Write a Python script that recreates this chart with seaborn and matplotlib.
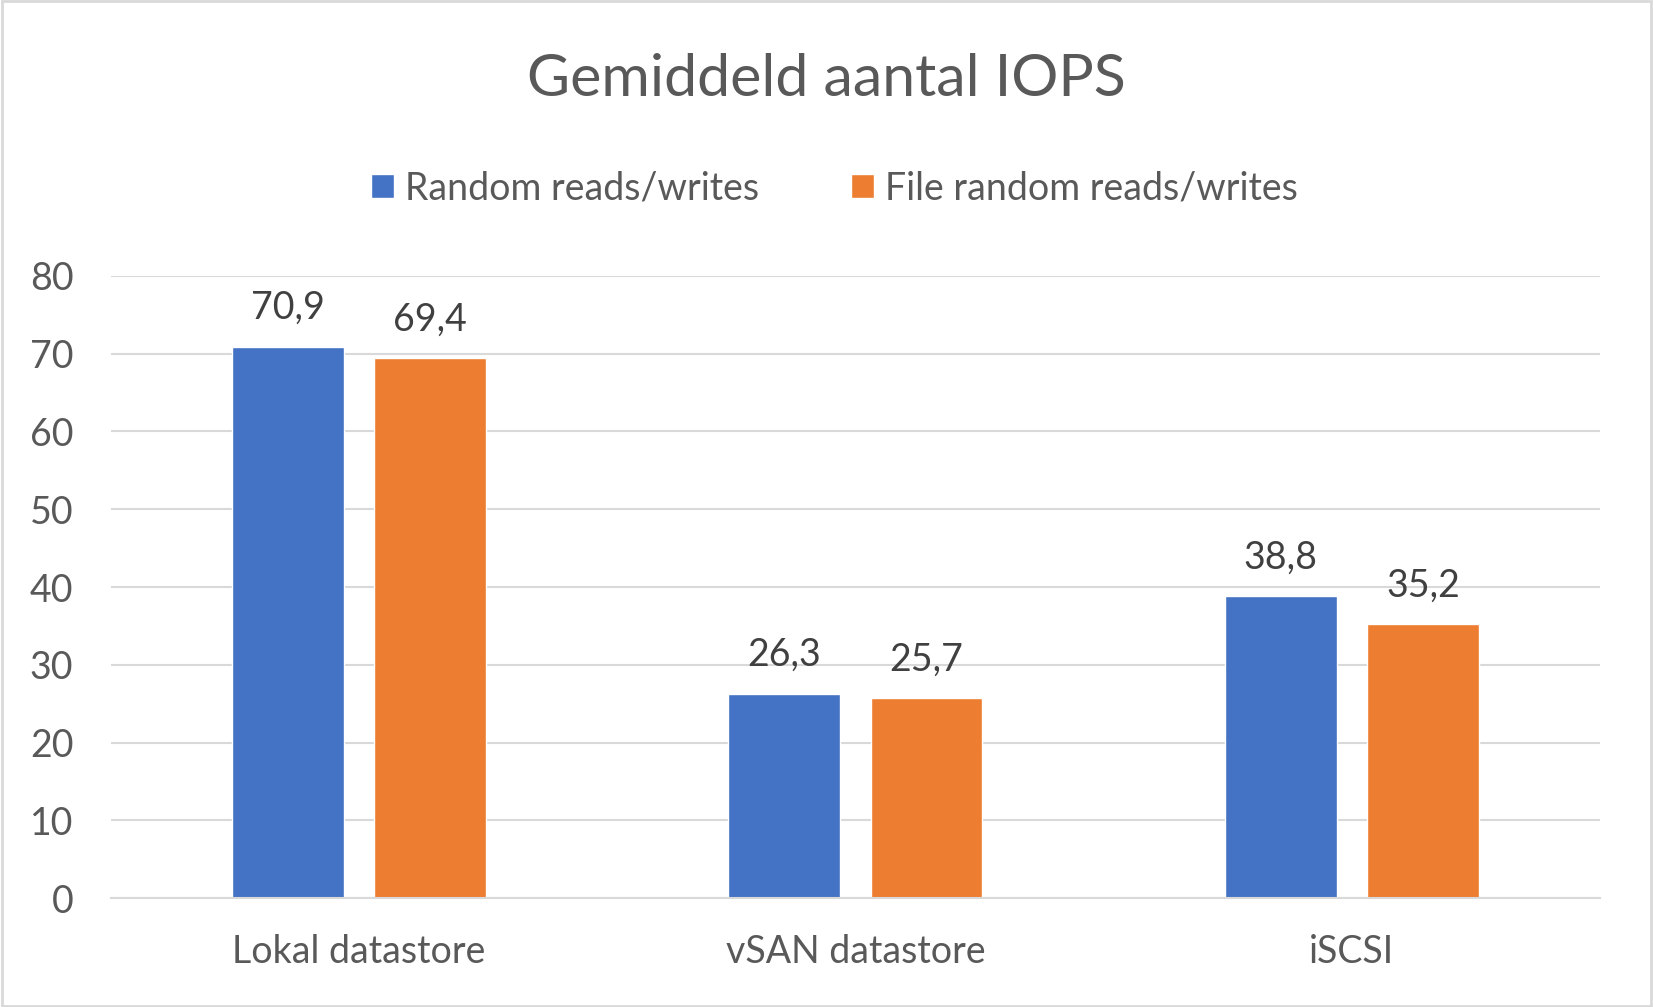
import pandas as pd
import matplotlib.pyplot as plt
import seaborn as sns

categories = ["Lokal datastore", "vSAN datastore", "iSCSI"]
series = ["Random reads/writes", "File random reads/writes"]
random_rw = [70.9, 26.3, 38.8]
file_random_rw = [69.4, 25.7, 35.2]
yticks = [0, 10, 20, 30, 40, 50, 60, 70, 80]

df = pd.DataFrame({
    "cat": categories * 2,
    "serie": [series[0]] * 3 + [series[1]] * 3,
    "val": random_rw + file_random_rw,
})

sns.set_style("white")
plt.rcParams['font.family'] = ['Lato', 'DejaVu Sans']
txt = "#595959"

fig = plt.figure(figsize=(16.53, 10.07), dpi=100)
ax = fig.add_axes([0.067, 0.108, 0.901, 0.618])

sns.barplot(data=df, x="cat", y="val", hue="serie", order=categories, hue_order=series,
            palette=["#4472C4", "#ED7D31"], saturation=1, width=0.573, gap=0.215,
            ax=ax, legend=True)

for c in ax.containers:
    ax.bar_label(c, labels=[f"{v:.1f}".replace(".", ",") for v in c.datavalues],
                 padding=15, fontsize=27, color="#404040")

ax.set_ylim(0, 80)
ax.set_yticks(yticks)
ax.set_xlim(-0.5, 2.5)
ax.yaxis.grid(True, color="#d9d9d9", linewidth=1.5)
ax.set_axisbelow(True)
for s in ["top", "right", "left"]:
    ax.spines[s].set_visible(False)
ax.spines["bottom"].set_color("#d9d9d9")
ax.spines["bottom"].set_linewidth(1.5)
ax.tick_params(axis="y", labelsize=27, labelcolor=txt, length=0, pad=27)
ax.tick_params(axis="x", labelsize=27, labelcolor=txt, length=0, pad=26)
ax.set_xlabel("")
ax.set_ylabel("")

ax.legend(loc="lower center", bbox_to_anchor=(0.486, 1.058), ncol=2, frameon=False,
          fontsize=27, labelcolor=txt, handlelength=0.6, handleheight=0.6,
          handletextpad=0.3, columnspacing=2.45)

fig.text(0.5, 0.921, "Gemiddeld aantal IOPS", ha="center", va="center",
         fontsize=42.5, color=txt)

border = plt.Rectangle((0.001, 0.001), 0.998, 0.998, transform=fig.transFigure,
                       fill=False, edgecolor="#d9d9d9", linewidth=2)
fig.patches.append(border)

fig.savefig("out.png", dpi=100, facecolor="white")
